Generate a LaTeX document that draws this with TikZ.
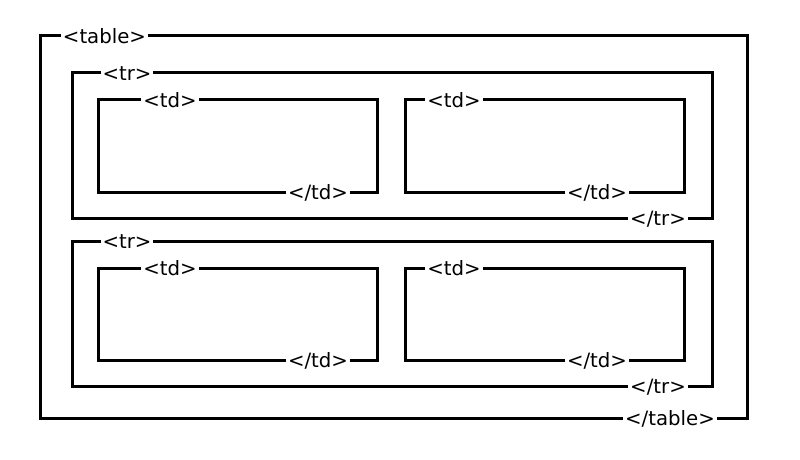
\documentclass[tikz,border=0pt]{standalone}
\usepackage{fontspec}
\setmainfont{DejaVu Sans}
\begin{document}
\begin{tikzpicture}[x=0.75pt,y=-0.75pt,
        box/.style={line width=2.25pt},
        tag/.style={fill=white,inner sep=1.5pt,anchor=base,
            font=\fontsize{14.8}{17}\selectfont}]
    \useasboundingbox (0,0) rectangle (800,460);
    % table
    \draw[box] (40,36) rectangle (747,418);
    \node[tag] (tableopen) at (104.5,43.5) {<table>};
    \node[tag] (tableclose) at (670,425.5) {</table>};
    % rows and cells
    \foreach \r/\dy in {1/0,2/168}{
        \draw[box] (72,73+\dy) rectangle (712,218+\dy);
        \node[tag] (tropen\r) at (127,80.5+\dy) {<tr>};
        \node[tag] (trclose\r) at (658,225.5+\dy) {</tr>};
        \foreach \c/\dx/\ox/\cx in {1/0/170/318,2/307/454/597}{
            \draw[box] (98+\dx,100+\dy) rectangle (377+\dx,192+\dy);
            \node[tag] (tdopen\r\c) at (\ox,107.5+\dy) {<td>};
            \node[tag] (tdclose\r\c) at (\cx,199.5+\dy) {</td>};
        }
    }
\end{tikzpicture}
\end{document}
